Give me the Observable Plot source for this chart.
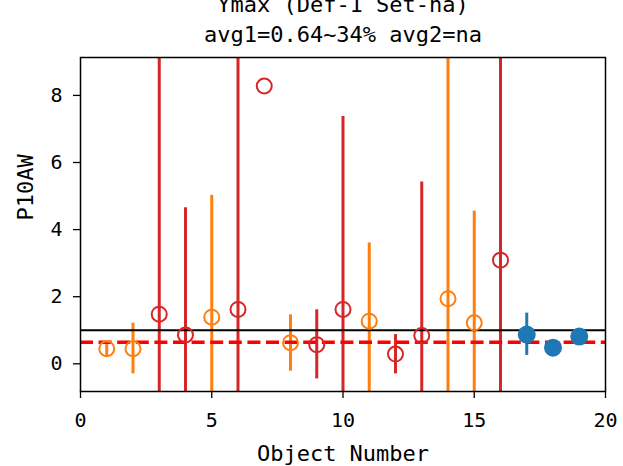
<!DOCTYPE html>
<html><head><meta charset="utf-8">
<script src="https://cdn.jsdelivr.net/npm/d3@7"></script>
<script src="https://cdn.jsdelivr.net/npm/@observablehq/plot@0.6"></script>
<style>html,body{margin:0;padding:0;background:#fff} svg{display:block}</style>
</head><body><div id="chart"></div>
<script>
// ---- data ----
const objectNumber = [1, 2, 3, 4, 5, 6, 7, 8, 9, 10, 11, 12, 13, 14, 15, 16, 17, 18, 19];
const p10aw        = [0.45, 0.45, 1.48, 0.86, 1.39, 1.62, 8.28, 0.63, 0.57, 1.62, 1.27, 0.29, 0.84, 1.94, 1.22, 3.09, 0.87, 0.48, 0.81];
const errLow       = [0.22, -0.30, -2.5, -2.5, -2.5, -2.5, null, -0.22, -0.45, -2.5, -2.5, -0.30, -2.5, -2.5, -2.5, -2.5, 0.25, 0.40, 0.74];
const errHigh      = [0.64, 1.21, 12, 4.65, 5.02, 12, null, 1.46, 1.61, 7.37, 3.60, 0.87, 5.42, 12, 4.55, 12, 1.51, 0.56, 0.88];
const group        = ["B","B","A","A","B","A","A","B","A","A","B","A","A","B","B","A","C","C","C"];
const groupNames   = ["A", "B", "C"];
const xTicks = [0, 5, 10, 15, 20];
const yTicks = [0, 2, 4, 6, 8];
const refLine = [1];
const avg1Line = [0.64];
const titleLine1 = "Ymax (Def-1 Set-na)";
const titleLine2 = "avg1=0.64~34% avg2=na";
const xLabel = "Object Number";
const yLabel = "P10AW";

const rows = objectNumber.map((x, i) => ({x, y: p10aw[i], lo: errLow[i], hi: errHigh[i], g: group[i]}));
const withErr = rows.filter(d => d.lo != null && d.hi != null);
const openPts = rows.filter(d => d.g !== "C");
const filledPts = rows.filter(d => d.g === "C");
const font = "'DejaVu Sans Mono', monospace";

const chart = Plot.plot({
  width: 623, height: 466,
  marginLeft: 80, marginRight: 18, marginTop: 57, marginBottom: 75,
  style: {fontFamily: font, fontSize: "20px", background: "white", color: "black", overflow: "visible"},
  x: {domain: [0, 20]},
  y: {domain: [-0.826, 9.13]},
  color: {domain: groupNames, range: ["#d62728", "#ff7f0e", "#1f77b4"]},
  marks: [
    Plot.ruleX(withErr, {x: "x", y1: "lo", y2: "hi", stroke: "g", strokeWidth: 3, clip: true}),
    Plot.ruleY(refLine, {stroke: "black", strokeWidth: 2}),
    Plot.ruleY(avg1Line, {stroke: "red", strokeWidth: 3.5, strokeDasharray: "13,5.6"}),
    Plot.dot(openPts, {x: "x", y: "y", stroke: "g", r: 7.5, strokeWidth: 2, fill: "none"}),
    Plot.dot(filledPts, {x: "x", y: "y", fill: "g", r: 9}),
    Plot.frame({stroke: "black", strokeWidth: 1.5}),
    Plot.axisX({ticks: xTicks, tickSize: 7, tickPadding: 14, fontSize: 20, label: null, strokeWidth: 1.3}),
    Plot.axisY({ticks: yTicks, tickSize: 7, tickPadding: 11, fontSize: 20, label: null, strokeWidth: 1.3}),
    Plot.text([titleLine1], {text: d => d, frameAnchor: "top", dy: -46, lineAnchor: "bottom", fontSize: 22}),
    Plot.text([titleLine2], {text: d => d, frameAnchor: "top", dy: -15.5, lineAnchor: "bottom", fontSize: 22}),
    Plot.text([xLabel], {text: d => d, frameAnchor: "bottom", dy: 69, lineAnchor: "bottom", fontSize: 22}),
    Plot.text([yLabel], {text: d => d, frameAnchor: "left", dx: -55, dy: -4, rotate: -90, lineAnchor: "middle", fontSize: 22})
  ]
});
document.getElementById("chart").appendChild(chart);
</script>
</body></html>
